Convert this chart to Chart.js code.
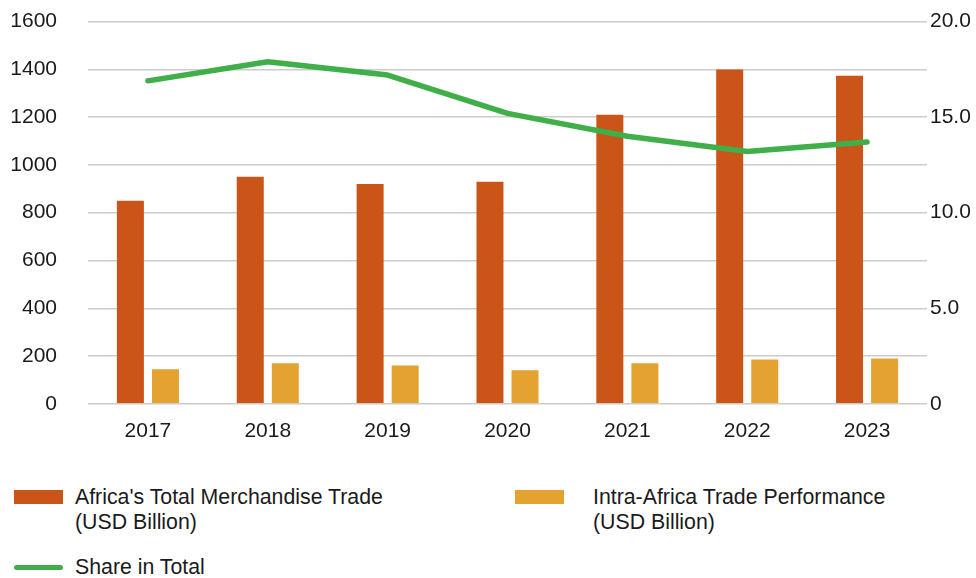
<!DOCTYPE html>
<html>
<head>
<meta charset="utf-8">
<script src="https://cdn.jsdelivr.net/npm/chart.js@4/dist/chart.umd.min.js"></script>
<style>
  html, body { margin: 0; padding: 0; background: #fff; }
  body { width: 976px; height: 578px; position: relative; overflow: hidden; font-family: "Liberation Sans", Arial, Helvetica, sans-serif; color: #1a1a1a; }
  #wrap { position: absolute; left: 0; top: -22px; width: 976px; height: 473px; }
  .leg { position: absolute; font-size: 21.3px; line-height: 25px; color: #1a1a1a; }
  .sw { position: absolute; }
</style>
</head>
<body>
<div id="wrap"><canvas id="c"></canvas></div>
<div class="sw" style="left:14px;top:490px;width:49px;height:14px;background:#CB5518"></div>
<div class="leg" style="left:75px;top:485px;">Africa's Total Merchandise Trade<br>(USD Billion)</div>
<div class="sw" style="left:515px;top:490px;width:49px;height:14px;background:#E4A231"></div>
<div class="leg" style="left:593px;top:485px;">Intra-Africa Trade Performance<br>(USD Billion)</div>
<div class="sw" style="left:14px;top:565px;width:49px;height:5px;border-radius:3px;background:#40AE49"></div>
<div class="leg" style="left:75px;top:555px;">Share in Total</div>
<script>
const years = ["2017", "2018", "2019", "2020", "2021", "2022", "2023"];
const totalTrade = [850, 950, 920, 930, 1210, 1400, 1373];
const intraTrade = [145, 170, 160, 140, 170, 185, 190];
const shareInTotal = [16.9, 17.9, 17.2, 15.2, 14.0, 13.2, 13.7];
const leftTicks = [0, 200, 400, 600, 800, 1000, 1200, 1400, 1600];
const rightTicks = [0, 5, 10, 15, 20];

const tickFont = { family: "'Liberation Sans', Arial, sans-serif", size: 21 };

new Chart(document.getElementById('c'), {
  data: {
    labels: years,
    datasets: [
      {
        type: 'line', label: 'Share in Total', data: shareInTotal, yAxisID: 'y1',
        borderColor: '#40AE49', borderWidth: 5.5, pointRadius: 0, tension: 0,
        borderCapStyle: 'round', borderJoinStyle: 'round', order: 0
      },
      {
        type: 'bar', label: "Africa's Total Merchandise Trade (USD Billion)", data: totalTrade,
        yAxisID: 'y', backgroundColor: '#CB5518', barPercentage: 0.77, categoryPercentage: 0.585, order: 1
      },
      {
        type: 'bar', label: 'Intra-Africa Trade Performance (USD Billion)', data: intraTrade,
        yAxisID: 'y', backgroundColor: '#E4A231', barPercentage: 0.77, categoryPercentage: 0.585, order: 1
      }
    ]
  },
  options: {
    responsive: true,
    maintainAspectRatio: false,
    animation: false,
    layout: { padding: { top: 0, left: 0, right: 0, bottom: 0 } },
    plugins: { legend: { display: false }, tooltip: { enabled: false } },
    scales: {
      x: {
        grid: { display: false },
        border: { display: false },
        ticks: { color: '#1a1a1a', font: tickFont, padding: 7 }
      },
      y: {
        position: 'left', min: 0, max: 1600,
        afterBuildTicks: (s) => { s.ticks = leftTicks.map(v => ({ value: v })); },
        afterFit: (s) => { s.width = 88; },
        grid: { color: '#cccccc', lineWidth: 1.5, drawTicks: false },
        border: { display: false },
        ticks: { color: '#1a1a1a', font: tickFont, padding: 31, callback: (v) => String(v) }
      },
      y1: {
        position: 'right', min: 0, max: 20,
        afterBuildTicks: (s) => { s.ticks = rightTicks.map(v => ({ value: v })); },
        afterFit: (s) => { s.width = 49; },
        grid: { display: false, drawTicks: false },
        border: { display: false },
        ticks: { color: '#1a1a1a', font: tickFont, padding: 3, callback: (v) => v === 0 ? '0' : Number(v).toFixed(1) }
      }
    }
  }
});
</script>
</body>
</html>
